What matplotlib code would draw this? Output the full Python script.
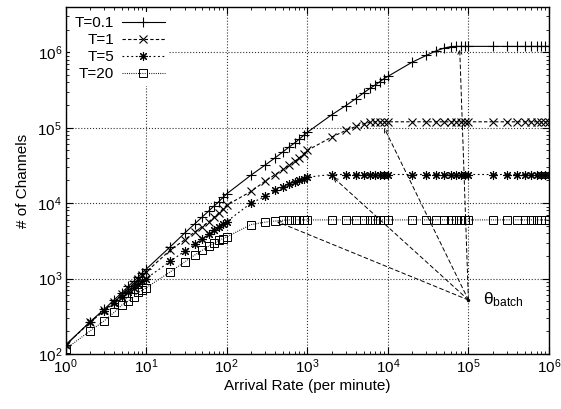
import matplotlib
matplotlib.use('Agg')
import matplotlib.pyplot as plt

plt.rcParams['font.family'] = ['Liberation Sans', 'DejaVu Sans']
plt.rcParams['mathtext.fontset'] = 'custom'
plt.rcParams['mathtext.rm'] = 'Liberation Sans'
plt.rcParams['mathtext.it'] = 'Liberation Sans'

# arrival rates (per minute): 1..9 per decade
rates = [1, 2, 3, 4, 5, 6, 7, 8, 9,
         10, 20, 30, 40, 50, 60, 70, 80, 90,
         100, 200, 300, 400, 500, 600, 700, 800, 900,
         1000, 2000, 3000, 4000, 5000, 6000, 7000, 8000, 9000,
         10000, 20000, 30000, 40000, 50000, 60000, 70000, 80000, 90000,
         100000, 200000, 300000, 400000, 500000, 600000, 700000, 800000, 900000,
         1000000]

ch_t01 = [131, 265, 390, 520, 650, 790, 920, 1050, 1200,
          1330, 2650, 4000, 5300, 6600, 7900, 9200, 10500, 11900,
          13300, 23500, 32000, 40000, 48000, 56000, 63000, 71000, 79000,
          87000, 148000, 196000, 243000, 290000, 333000, 370000, 410000, 450000,
          480000, 740000, 910000, 1050000, 1140000, 1190000, 1200000, 1200000, 1200000,
          1200000, 1200000, 1200000, 1200000, 1200000, 1200000, 1200000, 1200000, 1200000,
          1200000]

ch_t1 = [131, 262, 380, 490, 620, 740, 860, 980, 1100,
         1220, 2400, 3250, 4150, 4900, 5700, 6500, 7400, 8400,
         9400, 14300, 19600, 24000, 28000, 32000, 36000, 40000, 45000,
         50000, 75000, 92000, 104000, 113000, 118000, 120000, 120000, 120000,
         120000, 120000, 120000, 120000, 120000, 120000, 120000, 120000, 120000,
         120000, 120000, 120000, 120000, 120000, 120000, 120000, 120000, 120000,
         120000]

ch_t5 = [131, 262, 370, 470, 570, 670, 760, 850, 940,
         1000, 1700, 2300, 2850, 3350, 3850, 4350, 4850, 5300,
         5700, 10000, 12300, 14800, 16300, 17800, 19000, 20200, 21200,
         22100, 24000, 24000, 24000, 24000, 24000, 24000, 24000, 24000,
         24000, 24000, 24000, 24000, 24000, 24000, 24000, 24000, 24000,
         24000, 24000, 24000, 24000, 24000, 24000, 24000, 24000, 24000,
         24000]

ch_t20 = [116, 201, 273, 356, 445, 502, 574, 655, 700,
          755, 1230, 1660, 2050, 2380, 2700, 2950, 3200, 3400,
          3570, 5200, 5600, 5800, 5950, 6000, 6000, 6000, 6000,
          6000, 6000, 6000, 6000, 6000, 6000, 6000, 6000, 6000,
          6000, 6000, 6000, 6000, 6000, 6000, 6000, 6000, 6000,
          6000, 6000, 6000, 6000, 6000, 6000, 6000, 6000, 6000,
          6000]

labels = ['T=0.1', 'T=1', 'T=5', 'T=20']

# theta_batch point and the knee of each curve it points to
theta_pt = (1.0e5, 520)
knee_x = [78000, 9000, 2100, 420]
knee_y = [1.1e6, 1.0e5, 2.2e4, 5700]

fig = plt.figure(figsize=(5.61, 4.09), dpi=100)
ax = fig.add_axes([0.1168, 0.1345, 0.8618, 0.8485])

series = [ch_t01, ch_t1, ch_t5, ch_t20]
styles = [
    dict(linestyle='-', marker='+', ms=7, mew=0.8),
    dict(linestyle=(0, (3, 2)), marker='x', ms=5.5, mew=0.8),
    dict(linestyle=(0, (1.6, 2.4)), marker=(8, 2, 0), ms=6.5, mew=0.8),
    dict(linestyle=(0, (0.8, 1.2)), marker='s', ms=5.5, mew=0.7, mfc='none'),
]
for ys, lab, st in zip(series, labels, styles):
    ax.plot(rates, ys, color='black', lw=0.8, label=lab, **st)

for kx, ky in zip(knee_x, knee_y):
    ax.annotate('', xy=(kx, ky), xytext=theta_pt,
                arrowprops=dict(arrowstyle='->', color='black', lw=0.7,
                                linestyle=(0, (4, 3)), shrinkA=0, shrinkB=0,
                                mutation_scale=7))
ax.plot([theta_pt[0]], [theta_pt[1]], 'ko', ms=1.5)
ax.text(1.5e5, theta_pt[1], 'θ$_{\\mathregular{batch}}$', fontsize=12.5,
        va='center', ha='left')

ax.set_xscale('log')
ax.set_yscale('log')
ax.set_xlim(1, 1e6)
ax.set_ylim(100, 4e6)
ax.set_xlabel('Arrival Rate (per minute)', fontsize=11, labelpad=2)
ax.set_ylabel('# of Channels', fontsize=11, labelpad=5)

ax.grid(True, which='major', color='0.2', linestyle=':', linewidth=0.8)
ax.tick_params(which='both', direction='in', top=True, right=True, labelsize=11)
ax.tick_params(which='major', length=5, width=0.8, pad=2.5)
ax.tick_params(which='minor', length=2.5, width=0.6)
for sp in ax.spines.values():
    sp.set_linewidth(1.0)

leg = ax.legend(loc='upper left', markerfirst=False, handlelength=2.8,
                handletextpad=0.52, labelspacing=0.2, borderpad=0.3,
                borderaxespad=0.3, fontsize=11, frameon=True, fancybox=False)
leg.get_frame().set_edgecolor('none')
leg.get_frame().set_facecolor('white')
leg.get_frame().set_alpha(1)

fig.savefig('out.png', dpi=100)
